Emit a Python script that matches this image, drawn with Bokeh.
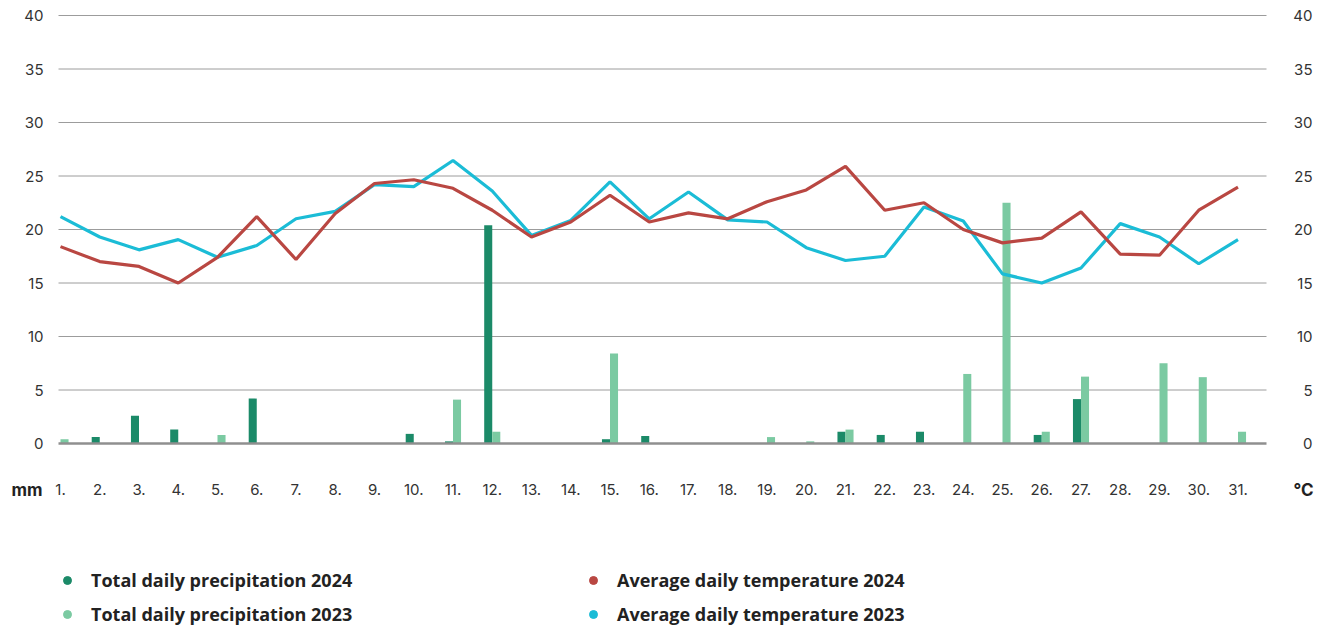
import numpy as np
from bokeh.plotting import figure
from bokeh.models import Range1d, Legend, LegendItem, ColumnDataSource
from bokeh.core.properties import value
from bokeh.embed import file_html
from bokeh.resources import INLINE

# ---------------- data ----------------
days = list(range(1, 32))
day_labels = [f"{d}." for d in days]
precip_2024 = [0, 0.6, 2.6, 1.3, 0, 4.2, 0, 0, 0, 0.9,
               0.2, 20.4, 0, 0, 0.4, 0.7, 0, 0, 0, 0,
               1.1, 0.8, 1.1, 0, 0, 0.8, 4.15, 0, 0, 0, 0]
precip_2023 = [0.4, 0, 0, 0, 0.8, 0, 0, 0, 0, 0,
               4.1, 1.1, 0, 0, 8.4, 0, 0, 0, 0.6, 0.2,
               1.3, 0, 0, 6.5, 22.5, 1.1, 6.25, 0, 7.5, 6.2, 1.1]
temp_2024 = [18.4, 17.0, 16.55, 15.0, 17.4, 21.2, 17.2, 21.5, 24.3, 24.65,
             23.85, 21.8, 19.3, 20.7, 23.2, 20.7, 21.55, 21.0, 22.6, 23.7,
             25.9, 21.8, 22.5, 20.0, 18.75, 19.2, 21.65, 17.7, 17.6, 21.8, 23.95]
temp_2023 = [21.2, 19.3, 18.1, 19.05, 17.4, 18.5, 21.0, 21.7, 24.2, 24.0,
             26.45, 23.6, 19.45, 20.85, 24.45, 21.0, 23.5, 20.9, 20.7, 18.3,
             17.1, 17.5, 22.1, 20.8, 15.85, 15.0, 16.4, 20.55, 19.3, 16.8, 19.05]
y_ticks = [0, 5, 10, 15, 20, 25, 30, 35, 40]
y_tick_labels = [str(t) for t in y_ticks]
unit_left = "mm"
unit_right = "°C"
series_names = ["Total daily precipitation 2024", "Total daily precipitation 2023",
                "Average daily temperature 2024", "Average daily temperature 2023"]

# ---------------- layout / styling ----------------
W, H = 1321, 628
DAY1_PX, PX_PER_DAY = 60.0, 39.25        # pixel of day 1 and spacing
ZERO_PX, PX_PER_UNIT = 443.0, 10.7       # pixel of y=0 and scale
PLOT_L_PX, PLOT_R_PX = 58.0, 1266.0      # extent of the plotting area


def px_to_x(px):
    return 1 + (px - DAY1_PX) / PX_PER_DAY


def px_to_y(py):
    return (ZERO_PX - py) / PX_PER_UNIT


C_P24 = "#1b8a68"
C_P23 = "#7bcaa2"
C_T24 = "#b94742"
C_T23 = "#1bbcd6"
TXT = "#333333"
FONT = "Inter"
BAR_W = 0.205

src = ColumnDataSource(dict(
    day=days,
    lab=day_labels,
    x24=np.array(days) - BAR_W / 2,
    x23=np.array(days) + BAR_W / 2,
    p24=precip_2024, p23=precip_2023, t24=temp_2024, t23=temp_2023,
))

p = figure(width=W, height=H,
           x_range=Range1d(px_to_x(0), px_to_x(W)),
           y_range=Range1d(px_to_y(H), px_to_y(0)),
           output_backend="svg", toolbar_location=None,
           x_axis_location=None, y_axis_location=None, min_border=0)
p.outline_line_color = None
p.grid.visible = False
p.background_fill_color = "white"
p.border_fill_color = "white"

# horizontal grid lines (plot area only)
gx0, gx1 = px_to_x(PLOT_L_PX), px_to_x(PLOT_R_PX)
grid_src = ColumnDataSource(dict(y=y_ticks[1:]))
p.segment(x0=gx0, x1=gx1, y0="y", y1="y", source=grid_src, line_color="#9c9c9c", line_width=1)

# bars
p.vbar(x="x24", top="p24", width=BAR_W, source=src, color=C_P24, line_color=None)
p.vbar(x="x23", top="p23", width=BAR_W, source=src, color=C_P23, line_color=None)

# zero line
p.segment(x0=gx0, x1=gx1, y0=0, y1=0, line_color="#8f8f8f", line_width=2.5)

# lines
p.line(x="day", y="t23", source=src, color=C_T23, line_width=3.2)
p.line(x="day", y="t24", source=src, color=C_T24, line_width=3.2)

# y tick labels (both sides)
ysrc = ColumnDataSource(dict(y=y_ticks, t=y_tick_labels))
p.text(x=px_to_x(43), y="y", text="t", source=ysrc, text_align="right", text_baseline="middle",
       text_font=value(FONT), text_font_size="15px", text_color=TXT)
p.text(x=px_to_x(1312), y="y", text="t", source=ysrc, text_align="right", text_baseline="middle",
       text_font=value(FONT), text_font_size="15px", text_color=TXT)

# x tick labels
p.text(x="day", y=px_to_y(489), text="lab", source=src, text_align="center", text_baseline="middle",
       text_font=value(FONT), text_font_size="15px", text_color=TXT)

# unit labels
p.text(x=[px_to_x(11)], y=[px_to_y(489)], text=[unit_left], text_align="left", text_baseline="middle",
       text_font=value(FONT), text_font_style="bold", text_font_size="17px", text_color="#222222")
p.text(x=[px_to_x(1313)], y=[px_to_y(489)], text=[unit_right], text_align="right", text_baseline="middle",
       text_font=value(FONT), text_font_style="bold", text_font_size="17px", text_color="#222222")

# legend (key-only renderers: a single NaN point, nothing drawn in the plot)
colors = [C_P24, C_P23, C_T24, C_T23]
items = []
for name, c in zip(series_names, colors):
    r = p.scatter(x=[np.nan], y=[np.nan], marker="circle", size=13, color=c)
    items.append(LegendItem(label=name, renderers=[r]))

legend = Legend(items=items, location=(57, 2), orientation="vertical", ncols=2,
                spacing=10, glyph_width=20, glyph_height=20, label_standoff=14,
                label_width=482, label_height=20,
                label_text_font="Open Sans", label_text_font_style="bold",
                label_text_font_size="18px", label_text_color="#222222",
                padding=0, margin=0, border_line_color=None, background_fill_alpha=0)
p.add_layout(legend)

open("out.html", "w").write(file_html(p, INLINE))
